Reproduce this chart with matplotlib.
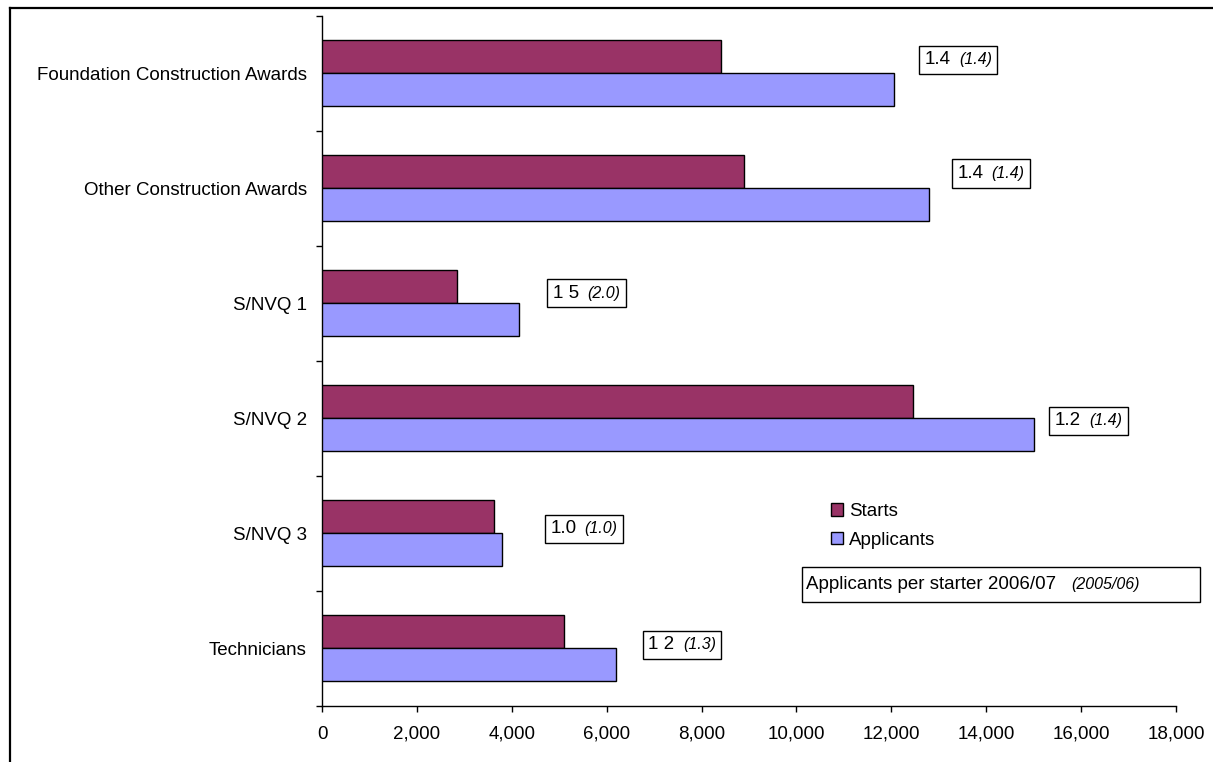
import matplotlib
matplotlib.use("Agg")
import matplotlib.pyplot as plt
import numpy as np
from matplotlib.lines import Line2D
from matplotlib.patches import Rectangle, Patch
from matplotlib.offsetbox import TextArea, HPacker, AnnotationBbox
from matplotlib.ticker import FuncFormatter, FixedLocator

plt.rcParams["font.family"] = ["Liberation Sans", "DejaVu Sans"]

# Data
categories = ["Foundation Construction Awards", "Other Construction Awards",
              "S/NVQ 1", "S/NVQ 2", "S/NVQ 3", "Technicians"]
starts = [8400, 8900, 2850, 12450, 3620, 5100]
applicants = [12050, 12800, 4150, 15000, 3790, 6200]
ratio_0607 = ["1.4", "1.4", "1 5", "1.2", "1.0", "1 2"]
ratio_0506 = ["(1.4)", "(1.4)", "(2.0)", "(1.4)", "(1.0)", "(1.3)"]
x_ticks = list(range(0, 18001, 2000))

# Placement of the ratio boxes (left edge in data units, vertical shift in category units)
ratio_box_x = [12700, 13390, 4860, 15450, 4810, 6880]
ratio_box_dy = [-0.12, -0.13, -0.09, 0.02, -0.04, -0.03]

W, H = 1213, 762
fig = plt.figure(figsize=(W / 100, H / 100), dpi=100)
ax = fig.add_axes([322 / W, 1 - 705.7 / H, (1176 - 322) / W, (705.7 - 16) / H])

starts_color = "#993366"
appl_color = "#9999FF"
bar_h = 0.287

centers = np.arange(len(categories)) + 0.5
ax.barh(centers - bar_h / 2, starts, height=bar_h, color=starts_color,
        edgecolor="black", linewidth=1, label="Starts", zorder=3)
ax.barh(centers + bar_h / 2, applicants, height=bar_h, color=appl_color,
        edgecolor="black", linewidth=1, label="Applicants", zorder=3)

ax.set_xlim(0, 18000)
ax.set_ylim(len(categories), 0)

# x axis
ax.xaxis.set_major_locator(FixedLocator(x_ticks))
ax.xaxis.set_major_formatter(FuncFormatter(lambda v, p: f"{int(v):,}"))
ax.tick_params(axis="x", direction="out", length=4.3, width=1, labelsize=13.5, pad=10)

# y axis: boundary ticks, labels at category centres
ax.yaxis.set_major_locator(FixedLocator(np.arange(len(categories) + 1)))
ax.yaxis.set_major_formatter(FuncFormatter(lambda v, p: ""))
ax.yaxis.set_minor_locator(FixedLocator(centers))
ax.set_yticklabels(categories, minor=True)
ax.tick_params(axis="y", which="major", direction="out", length=4.3, width=1)
ax.tick_params(axis="y", which="minor", length=0, labelsize=13.5, pad=11)

for s in ["top", "right"]:
    ax.spines[s].set_visible(False)
for s in ["left", "bottom"]:
    ax.spines[s].set_linewidth(1)

# Ratio boxes
for i in range(len(categories)):
    t1 = TextArea(ratio_0607[i], textprops=dict(fontsize=13.5))
    t2 = TextArea(ratio_0506[i], textprops=dict(fontsize=11.5, style="italic"))
    pack = HPacker(children=[t1, t2], align="baseline", pad=0, sep=6)
    ab = AnnotationBbox(pack, (ratio_box_x[i], centers[i] + ratio_box_dy[i]),
                        xycoords="data", box_alignment=(0, 0.5), frameon=True,
                        pad=0.4, bboxprops=dict(edgecolor="black", linewidth=1,
                                                facecolor="white"))
    ab.set_zorder(4)
    ax.add_artist(ab)

# Legend
handles = [Patch(facecolor=starts_color, edgecolor="black", linewidth=1, label="Starts"),
           Patch(facecolor=appl_color, edgecolor="black", linewidth=1, label="Applicants")]
ax.legend(handles=handles, loc="upper left", bbox_to_anchor=(831 / W, 1 - 503 / H),
          bbox_transform=fig.transFigure, frameon=False, borderpad=0,
          borderaxespad=0, handlelength=0.66, handleheight=0.66,
          handletextpad=0.28, labelspacing=0.62, fontsize=13.5)

# Explanation box for the ratio labels
fig.add_artist(Rectangle((801.7 / W, 1 - 601.7 / H), (1200 - 801.7) / W, 34.4 / H,
                         transform=fig.transFigure, facecolor="white",
                         edgecolor="black", linewidth=1))
fig.text(806 / W, 1 - 584.5 / H, "Applicants per starter 2006/07", fontsize=13.5,
         va="center", ha="left")
fig.text(1071.7 / W, 1 - 584.5 / H, "(2005/06)", fontsize=11.5, style="italic",
         va="center", ha="left")

# Outer frame
fig.add_artist(Line2D([10 / W, 1], [1 - 8 / H, 1 - 8 / H], transform=fig.transFigure,
                      color="black", linewidth=1.6))
fig.add_artist(Line2D([10 / W, 10 / W], [0, 1 - 8 / H], transform=fig.transFigure,
                      color="black", linewidth=1.6))

fig.savefig("out.png", dpi=100)
